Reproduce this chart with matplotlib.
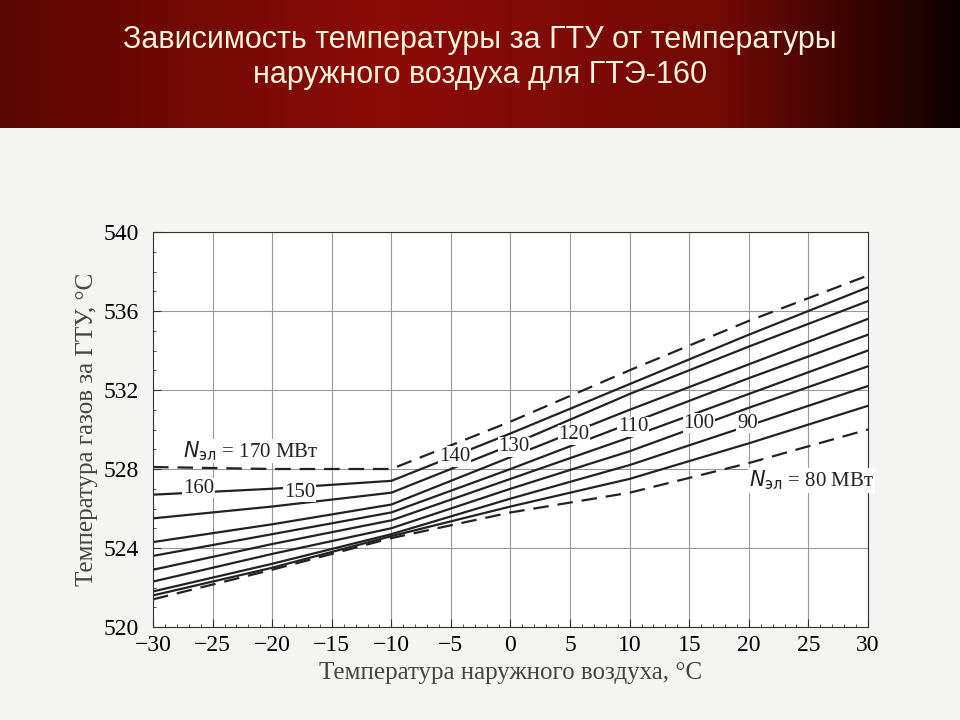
import numpy as np
import matplotlib
matplotlib.use("Agg")
import matplotlib.pyplot as plt

title = "Зависимость температуры за ГТУ от температуры\nнаружного воздуха для ГТЭ-160"
x = [-30, -20, -10, 0, 10, 20, 30]
loads = [170, 160, 150, 140, 130, 120, 110, 100, 90, 80]
curves = [
    [528.1, 528.0, 528.0, 530.4, 533.0, 535.5, 537.8],
    [526.7, 527.0, 527.4, 529.8, 532.3, 534.8, 537.2],
    [525.5, 526.1, 526.8, 529.2, 531.8, 534.2, 536.5],
    [524.3, 525.2, 526.2, 528.6, 531.0, 533.3, 535.6],
    [523.6, 524.7, 525.8, 528.0, 530.3, 532.6, 534.8],
    [522.9, 524.2, 525.4, 527.5, 529.6, 531.8, 534.0],
    [522.3, 523.7, 525.0, 527.0, 528.9, 531.1, 533.2],
    [521.8, 523.2, 524.7, 526.5, 528.2, 530.2, 532.2],
    [521.6, 523.0, 524.6, 526.1, 527.5, 529.3, 531.2],
    [521.4, 522.9, 524.5, 525.8, 526.8, 528.3, 530.0],
]
xticks = list(range(-30, 31, 5))
yticks = list(range(520, 541, 4))

fig = plt.figure(figsize=(9.6, 7.2), dpi=100)
fig.patch.set_facecolor("#f4f4f2")
band = fig.add_axes([0, 1 - 128/720, 1, 128/720])
grad = np.linspace(0, 1, 256)
cols = np.zeros((1, 256, 3))
r = np.interp(grad, [0, 0.4, 0.75, 1], [0.35, 0.55, 0.45, 0.05])
cols[0, :, 0] = r
cols[0, :, 1] = r * 0.08
cols[0, :, 2] = r * 0.05
band.imshow(cols, aspect="auto", extent=[0, 1, 0, 1])
band.axis("off")
band.text(0.5, 0.55, title, color="#fbf3dc", ha="center", va="center",
          fontsize=22, family="Liberation Sans", linespacing=1.25)

ax = fig.add_axes([153/960, 1 - 627/720, (868-153)/960, (627-232)/720])
ax.set_facecolor("white")
ser = "Liberation Serif"
for xv in xticks:
    ax.axvline(xv, color="#999", lw=0.8, zorder=0)
for yv in yticks:
    ax.axhline(yv, color="#999", lw=0.8, zorder=0)
for i, (n, c) in enumerate(zip(loads, curves)):
    dashed = i in (0, len(loads) - 1)
    ax.plot(x, c, color="#222", lw=1.6, ls=(0, (7, 4)) if dashed else "-")
ax.set_xlim(-30, 30)
ax.set_ylim(520, 540)
ax.set_xticks(xticks)
ax.set_yticks(yticks)
ax.set_xticklabels([str(t).replace("-", "−") for t in xticks], family=ser, fontsize=17)
ax.set_yticklabels([str(t) for t in yticks], family=ser, fontsize=17)
ax.minorticks_on()
ax.tick_params(which="both", direction="in", color="#333")
ax.tick_params(which="major", length=6)
ax.tick_params(axis="y", pad=10)
ax.tick_params(axis="x", pad=6)
ax.set_xlabel("Температура наружного воздуха, °С", family=ser, fontsize=18, color="#444")
ax.set_ylabel("Температура газов за ГТУ, °С", family=ser, fontsize=18, color="#444")
lab = dict(family=ser, fontsize=15, color="#222", bbox=dict(fc="white", ec="none", pad=0.5))
ax.text(-27.5, 528.6, r"$N_{\rm эл}$ = 170 МВт", **lab)
ax.text(-27.5, 526.8, "160", **lab)
ax.text(-19, 526.6, "150", **lab)
for n, xv, yv in [(140, -6, 528.4), (130, -1, 528.9), (120, 4, 529.5),
                  (110, 9, 529.9), (100, 14.5, 530.1), (90, 19, 530.1)]:
    ax.text(xv, yv, str(n), **lab)
ax.text(20, 527.1, r"$N_{\rm эл}$ = 80 МВт", **lab)
for s in ax.spines.values():
    s.set_color("#333")
fig.savefig("out.png", dpi=100, facecolor=fig.get_facecolor())
